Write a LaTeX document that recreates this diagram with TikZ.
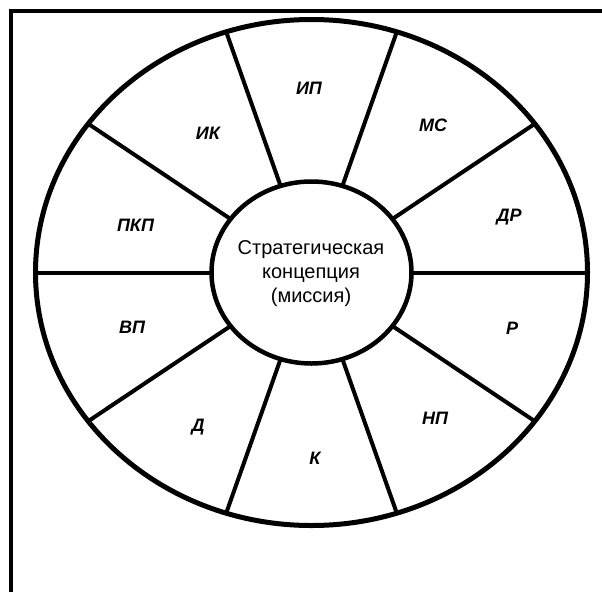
\documentclass[tikz,border=0pt]{standalone}
\usepackage{fontspec}
\setmainfont{Liberation Sans}
\usetikzlibrary{calc}
\begin{document}
\begin{tikzpicture}[x=1pt,y=-1pt,
  frameline/.style={line width=4pt},
  rimline/.style={line width=5pt},
  spokeline/.style={line width=4pt},
  lbl/.style={font=\fontsize{18}{20}\selectfont\bfseries\itshape, anchor=base, inner sep=0pt},
  mission/.style={font=\fontsize{20}{24}\selectfont, align=center, inner sep=0pt}]
\useasboundingbox (0,0) rectangle (602,592);
% frame
\coordinate (fb) at (11,592);
\coordinate (fc) at (11,11);
\coordinate (fr) at (602,11);
\draw[frameline] (fb) -- (fc) -- (fr);
% wheel
\coordinate (c) at (311.5,272.5);
\draw[rimline] (c) ellipse [x radius=276, y radius=253];
\foreach \a in {0,36,...,324} {
  \coordinate (in\a) at ($(c)+(\a:100 and 91)$);
  \coordinate (out\a) at ($(c)+(\a:276 and 253)$);
  \draw[spokeline] (in\a) -- (out\a);
}
\draw[rimline, line width=4.5pt, fill=white] (c) ellipse [x radius=100, y radius=91];
\node[mission] (m) at (311,274) {Стратегическая\\концепция\\(миссия)};
% sector labels
\node[lbl] (ip)  at (309,94.5)  {ИП};
\node[lbl] (ms)  at (433,131.5) {МС};
\node[lbl] (dr)  at (509,221.5) {ДР};
\node[lbl] (r)   at (512,334.5) {Р};
\node[lbl] (np)  at (435,424.5) {НП};
\node[lbl] (k)   at (315,464.5) {К};
\node[lbl] (d)   at (198,431.5) {Д};
\node[lbl] (vp)  at (132,333.5) {ВП};
\node[lbl] (pkp) at (135.5,231.5) {ПКП};
\node[lbl] (ik)  at (208,139.5) {ИК};
\end{tikzpicture}
\end{document}
